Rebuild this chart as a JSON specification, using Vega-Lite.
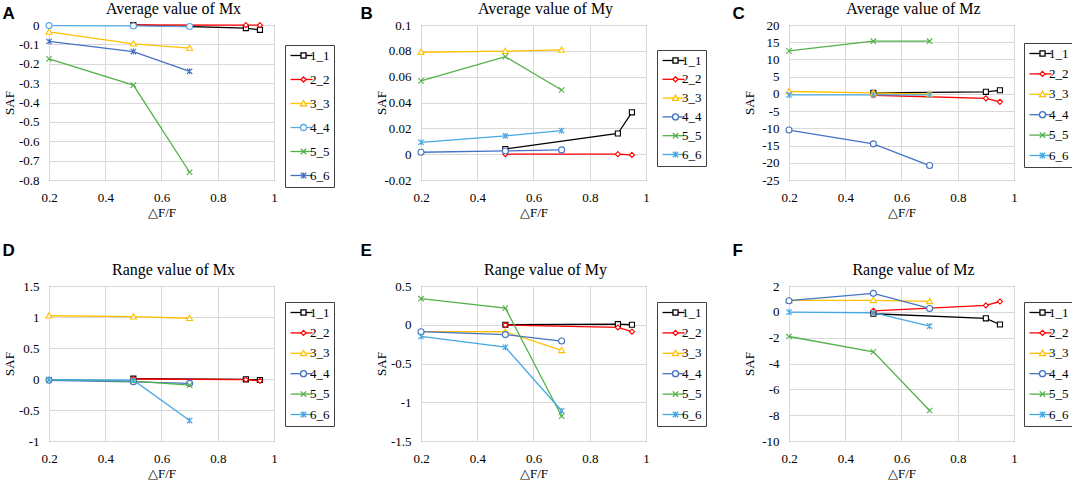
{
  "$schema": "https://vega.github.io/schema/vega-lite/v6.json",
  "padding": {"left": 2, "top": 0, "right": 0, "bottom": 0},
  "background": "white",
  "spacing": 21,
  "resolve": {"scale": {"color": "independent", "stroke": "independent", "shape": "independent"}, "legend": {"color": "independent", "stroke": "independent", "shape": "independent"}},
  "config": {
    "view": {"stroke": "#404040", "strokeWidth": 1},
    "concat": {"spacing": 25},
    "axis": {
      "domain": false,
      "ticks": false,
      "gridColor": "#d9d9d9",
      "gridWidth": 1,
      "labelFont": "Liberation Serif",
      "labelFontSize": 13,
      "labelColor": "black",
      "titleFont": "Liberation Serif",
      "titleFontSize": 13,
      "titleFontWeight": "normal",
      "titleColor": "black"
    },
    "axisX": {"labelPadding": 11, "titlePadding": 2, "labelFlush": false},
    "axisY": {"labelPadding": 10, "minExtent": 30, "maxExtent": 30, "titlePadding": 3},
    "title": {"font": "Liberation Serif", "fontSize": 16, "fontWeight": "normal", "color": "black", "offset": 2, "dx": 12},
    "legend": {
      "padding": 4,
      "labelFont": "Liberation Serif",
      "labelFontSize": 13,
      "labelColor": "black",
      "symbolStrokeWidth": 1.3
    }
  },
  "datasets": {
    "avgMx": [
      {"series": "1_1", "dff": 0.5, "saf": 0},
      {"series": "1_1", "dff": 0.9, "saf": -0.016},
      {"series": "1_1", "dff": 0.95, "saf": -0.025},
      {"series": "2_2", "dff": 0.5, "saf": 0},
      {"series": "2_2", "dff": 0.9, "saf": -0.001},
      {"series": "2_2", "dff": 0.95, "saf": -0.001},
      {"series": "3_3", "dff": 0.2, "saf": -0.036},
      {"series": "3_3", "dff": 0.5, "saf": -0.097},
      {"series": "3_3", "dff": 0.7, "saf": -0.119},
      {"series": "4_4", "dff": 0.2, "saf": -0.003},
      {"series": "4_4", "dff": 0.5, "saf": -0.005},
      {"series": "4_4", "dff": 0.7, "saf": -0.008},
      {"series": "5_5", "dff": 0.2, "saf": -0.175},
      {"series": "5_5", "dff": 0.5, "saf": -0.31},
      {"series": "5_5", "dff": 0.7, "saf": -0.76},
      {"series": "6_6", "dff": 0.2, "saf": -0.085},
      {"series": "6_6", "dff": 0.5, "saf": -0.137},
      {"series": "6_6", "dff": 0.7, "saf": -0.239}
    ],
    "avgMy": [
      {"series": "1_1", "dff": 0.5, "saf": 0.004},
      {"series": "1_1", "dff": 0.9, "saf": 0.016},
      {"series": "1_1", "dff": 0.95, "saf": 0.0324},
      {"series": "2_2", "dff": 0.5, "saf": 0},
      {"series": "2_2", "dff": 0.9, "saf": 0},
      {"series": "2_2", "dff": 0.95, "saf": -0.0006},
      {"series": "3_3", "dff": 0.2, "saf": 0.0789},
      {"series": "3_3", "dff": 0.5, "saf": 0.0797},
      {"series": "3_3", "dff": 0.7, "saf": 0.0807},
      {"series": "4_4", "dff": 0.2, "saf": 0.0015},
      {"series": "4_4", "dff": 0.5, "saf": 0.0025},
      {"series": "4_4", "dff": 0.7, "saf": 0.0033},
      {"series": "5_5", "dff": 0.2, "saf": 0.0567},
      {"series": "5_5", "dff": 0.5, "saf": 0.0755},
      {"series": "5_5", "dff": 0.7, "saf": 0.0497},
      {"series": "6_6", "dff": 0.2, "saf": 0.0092},
      {"series": "6_6", "dff": 0.5, "saf": 0.0141},
      {"series": "6_6", "dff": 0.7, "saf": 0.0182}
    ],
    "avgMz": [
      {"series": "1_1", "dff": 0.5, "saf": 0.3},
      {"series": "1_1", "dff": 0.9, "saf": 0.6},
      {"series": "1_1", "dff": 0.95, "saf": 1.05},
      {"series": "2_2", "dff": 0.5, "saf": -0.4},
      {"series": "2_2", "dff": 0.9, "saf": -1.3},
      {"series": "2_2", "dff": 0.95, "saf": -2.3},
      {"series": "3_3", "dff": 0.2, "saf": 0.7},
      {"series": "3_3", "dff": 0.5, "saf": 0.3},
      {"series": "3_3", "dff": 0.7, "saf": -0.1},
      {"series": "4_4", "dff": 0.2, "saf": -10.5},
      {"series": "4_4", "dff": 0.5, "saf": -14.5},
      {"series": "4_4", "dff": 0.7, "saf": -20.8},
      {"series": "5_5", "dff": 0.2, "saf": 12.5},
      {"series": "5_5", "dff": 0.5, "saf": 15.3},
      {"series": "5_5", "dff": 0.7, "saf": 15.3},
      {"series": "6_6", "dff": 0.2, "saf": -0.3},
      {"series": "6_6", "dff": 0.5, "saf": -0.3},
      {"series": "6_6", "dff": 0.7, "saf": -0.3}
    ],
    "rngMx": [
      {"series": "1_1", "dff": 0.5, "saf": 0.005},
      {"series": "1_1", "dff": 0.9, "saf": -0.005},
      {"series": "1_1", "dff": 0.95, "saf": -0.016},
      {"series": "2_2", "dff": 0.5, "saf": 0},
      {"series": "2_2", "dff": 0.9, "saf": -0.01},
      {"series": "2_2", "dff": 0.95, "saf": -0.03},
      {"series": "3_3", "dff": 0.2, "saf": 1.02},
      {"series": "3_3", "dff": 0.5, "saf": 1.005},
      {"series": "3_3", "dff": 0.7, "saf": 0.98},
      {"series": "4_4", "dff": 0.2, "saf": -0.02},
      {"series": "4_4", "dff": 0.5, "saf": -0.045},
      {"series": "4_4", "dff": 0.7, "saf": -0.07},
      {"series": "5_5", "dff": 0.2, "saf": -0.01},
      {"series": "5_5", "dff": 0.5, "saf": -0.035},
      {"series": "5_5", "dff": 0.7, "saf": -0.1},
      {"series": "6_6", "dff": 0.2, "saf": -0.01},
      {"series": "6_6", "dff": 0.5, "saf": -0.02},
      {"series": "6_6", "dff": 0.7, "saf": -0.67}
    ],
    "rngMy": [
      {"series": "1_1", "dff": 0.5, "saf": 0},
      {"series": "1_1", "dff": 0.9, "saf": 0.008},
      {"series": "1_1", "dff": 0.95, "saf": 0},
      {"series": "2_2", "dff": 0.5, "saf": -0.003},
      {"series": "2_2", "dff": 0.9, "saf": -0.035},
      {"series": "2_2", "dff": 0.95, "saf": -0.09},
      {"series": "3_3", "dff": 0.2, "saf": -0.088},
      {"series": "3_3", "dff": 0.5, "saf": -0.09},
      {"series": "3_3", "dff": 0.7, "saf": -0.33},
      {"series": "4_4", "dff": 0.2, "saf": -0.09},
      {"series": "4_4", "dff": 0.5, "saf": -0.127},
      {"series": "4_4", "dff": 0.7, "saf": -0.21},
      {"series": "5_5", "dff": 0.2, "saf": 0.336},
      {"series": "5_5", "dff": 0.5, "saf": 0.215},
      {"series": "5_5", "dff": 0.7, "saf": -1.18},
      {"series": "6_6", "dff": 0.2, "saf": -0.15},
      {"series": "6_6", "dff": 0.5, "saf": -0.29},
      {"series": "6_6", "dff": 0.7, "saf": -1.11}
    ],
    "rngMz": [
      {"series": "1_1", "dff": 0.5, "saf": -0.15},
      {"series": "1_1", "dff": 0.9, "saf": -0.5},
      {"series": "1_1", "dff": 0.95, "saf": -0.98},
      {"series": "2_2", "dff": 0.5, "saf": 0.08},
      {"series": "2_2", "dff": 0.9, "saf": 0.5},
      {"series": "2_2", "dff": 0.95, "saf": 0.8},
      {"series": "3_3", "dff": 0.2, "saf": 0.89},
      {"series": "3_3", "dff": 0.5, "saf": 0.89},
      {"series": "3_3", "dff": 0.7, "saf": 0.81},
      {"series": "4_4", "dff": 0.2, "saf": 0.86},
      {"series": "4_4", "dff": 0.5, "saf": 1.43},
      {"series": "4_4", "dff": 0.7, "saf": 0.26},
      {"series": "5_5", "dff": 0.2, "saf": -1.91},
      {"series": "5_5", "dff": 0.5, "saf": -3.1},
      {"series": "5_5", "dff": 0.7, "saf": -7.64},
      {"series": "6_6", "dff": 0.2, "saf": -0.02},
      {"series": "6_6", "dff": 0.5, "saf": -0.07},
      {"series": "6_6", "dff": 0.7, "saf": -1.11}
    ]
  },
  "vconcat": [
    {
      "resolve": {"scale": {"color": "independent", "stroke": "independent", "shape": "independent"}, "legend": {"color": "independent", "stroke": "independent", "shape": "independent"}},
      "hconcat": [
        {
          "title": {"text": "A", "anchor": "start", "font": "Liberation Sans", "fontSize": 17, "fontWeight": "bold", "color": "black", "offset": -22, "dx": 0},
          "resolve": {"scale": {"color": "independent", "stroke": "independent", "shape": "independent"}, "legend": {"color": "independent", "stroke": "independent", "shape": "independent"}},
          "vconcat": [
            {
              "title": "Average value of Mx",
              "width": 225,
              "height": 155,
              "data": {"name": "avgMx"},
              "encoding": {
                "x": {"field": "dff", "type": "quantitative", "scale": {"domain": [0.2, 1], "nice": false, "zero": false}, "axis": {"title": "△F/F", "values": [0.2, 0.4, 0.6, 0.8, 1], "format": "~r"}},
                "y": {"field": "saf", "type": "quantitative", "scale": {"domain": [-0.8, 0], "nice": false, "zero": false}, "axis": {"title": "SAF", "values": [-0.8, -0.7, -0.6, -0.5, -0.4, -0.3, -0.2, -0.1, 0], "format": "~r", "labelExpr": "replace(datum.label, '−', '-')"}}
              },
              "layer": [
                {
                  "mark": {"type": "line", "strokeWidth": 1.3},
                  "encoding": {"color": {"field": "series", "type": "nominal", "scale": {"domain": ["1_1", "2_2", "3_3", "4_4", "5_5", "6_6"], "range": ["#000000", "#FF0000", "#FFC000", "#5AAAE6", "#52B148", "#4472C4"]}, "legend": {"title": null, "orient": "none", "legendX": 236, "legendY": 20, "rowPadding": 10, "symbolType": "M-2.2,0H2.2", "symbolSize": 100, "symbolOffset": 6, "labelOffset": 2, "strokeColor": "#404040", "fillColor": "white"}}}
                },
                {
                  "mark": {"type": "point", "filled": false, "fill": "white", "opacity": 1, "size": 36, "strokeWidth": 1.1},
                  "encoding": {
                    "stroke": {"field": "series", "type": "nominal", "scale": {"range": ["#000000", "#FF0000", "#FFC000", "#5AAAE6", "#52B148", "#4472C4"]}, "legend": {"title": null, "orient": "none", "legendX": 236, "legendY": 20, "rowPadding": 10, "symbolSize": 36, "symbolOffset": 8, "labelOffset": 2, "labelExpr": "''", "strokeColor": "transparent", "fillColor": "transparent"}},
                    "shape": {"field": "series", "type": "nominal", "scale": {"range": ["M-0.85,-0.85H0.85V0.85H-0.85Z", "M0,-0.85L0.85,0L0,0.85L-0.85,0Z", "M0,-1L1,0.75H-1Z", "circle", "M-0.9,-0.9L0.9,0.9M-0.9,0.9L0.9,-0.9", "M-0.9,-0.9L0.9,0.9M-0.9,0.9L0.9,-0.9M0,-1V1"]}, "legend": {"title": null, "orient": "none", "legendX": 236, "legendY": 20, "rowPadding": 10, "symbolSize": 36, "symbolOffset": 8, "labelOffset": 2, "labelExpr": "''", "strokeColor": "transparent", "fillColor": "transparent"}}
                  }
                }
              ]
            }
          ]
        },
        {
          "title": {"text": "B", "anchor": "start", "font": "Liberation Sans", "fontSize": 17, "fontWeight": "bold", "color": "black", "offset": -22, "dx": -14},
          "resolve": {"scale": {"color": "independent", "stroke": "independent", "shape": "independent"}, "legend": {"color": "independent", "stroke": "independent", "shape": "independent"}},
          "vconcat": [
            {
              "title": "Average value of My",
              "width": 225,
              "height": 155,
              "data": {"name": "avgMy"},
              "encoding": {
                "x": {"field": "dff", "type": "quantitative", "scale": {"domain": [0.2, 1], "nice": false, "zero": false}, "axis": {"title": "△F/F", "values": [0.2, 0.4, 0.6, 0.8, 1], "format": "~r"}},
                "y": {"field": "saf", "type": "quantitative", "scale": {"domain": [-0.02, 0.1], "nice": false, "zero": false}, "axis": {"title": "SAF", "values": [-0.02, 0, 0.02, 0.04, 0.06, 0.08, 0.1], "format": "~r", "labelExpr": "replace(datum.label, '−', '-')"}}
              },
              "layer": [
                {
                  "mark": {"type": "line", "strokeWidth": 1.3},
                  "encoding": {"color": {"field": "series", "type": "nominal", "scale": {"domain": ["1_1", "2_2", "3_3", "4_4", "5_5", "6_6"], "range": ["#000000", "#FF0000", "#FFC000", "#4472C4", "#52B148", "#45A8E5"]}, "legend": {"title": null, "orient": "none", "legendX": 236, "legendY": 25, "rowPadding": 4.8, "symbolType": "M-2.2,0H2.2", "symbolSize": 100, "symbolOffset": 6, "labelOffset": 2, "strokeColor": "#404040", "fillColor": "white"}}}
                },
                {
                  "mark": {"type": "point", "filled": false, "fill": "white", "opacity": 1, "size": 36, "strokeWidth": 1.1},
                  "encoding": {
                    "stroke": {"field": "series", "type": "nominal", "scale": {"range": ["#000000", "#FF0000", "#FFC000", "#4472C4", "#52B148", "#45A8E5"]}, "legend": {"title": null, "orient": "none", "legendX": 236, "legendY": 25, "rowPadding": 4.8, "symbolSize": 36, "symbolOffset": 8, "labelOffset": 2, "labelExpr": "''", "strokeColor": "transparent", "fillColor": "transparent"}},
                    "shape": {"field": "series", "type": "nominal", "scale": {"range": ["M-0.85,-0.85H0.85V0.85H-0.85Z", "M0,-0.85L0.85,0L0,0.85L-0.85,0Z", "M0,-1L1,0.75H-1Z", "circle", "M-0.9,-0.9L0.9,0.9M-0.9,0.9L0.9,-0.9", "M-0.9,-0.9L0.9,0.9M-0.9,0.9L0.9,-0.9M0,-1V1"]}, "legend": {"title": null, "orient": "none", "legendX": 236, "legendY": 25, "rowPadding": 4.8, "symbolSize": 36, "symbolOffset": 8, "labelOffset": 2, "labelExpr": "''", "strokeColor": "transparent", "fillColor": "transparent"}}
                  }
                }
              ]
            }
          ]
        },
        {
          "title": {"text": "C", "anchor": "start", "font": "Liberation Sans", "fontSize": 17, "fontWeight": "bold", "color": "black", "offset": -22, "dx": -10},
          "resolve": {"scale": {"color": "independent", "stroke": "independent", "shape": "independent"}, "legend": {"color": "independent", "stroke": "independent", "shape": "independent"}},
          "vconcat": [
            {
              "title": "Average value of Mz",
              "width": 225,
              "height": 155,
              "data": {"name": "avgMz"},
              "encoding": {
                "x": {"field": "dff", "type": "quantitative", "scale": {"domain": [0.2, 1], "nice": false, "zero": false}, "axis": {"title": "△F/F", "values": [0.2, 0.4, 0.6, 0.8, 1], "format": "~r"}},
                "y": {"field": "saf", "type": "quantitative", "scale": {"domain": [-25, 20], "nice": false, "zero": false}, "axis": {"title": "SAF", "values": [-25, -20, -15, -10, -5, 0, 5, 10, 15, 20], "format": "~r", "labelExpr": "replace(datum.label, '−', '-')"}}
              },
              "layer": [
                {
                  "mark": {"type": "line", "strokeWidth": 1.3},
                  "encoding": {"color": {"field": "series", "type": "nominal", "scale": {"domain": ["1_1", "2_2", "3_3", "4_4", "5_5", "6_6"], "range": ["#000000", "#FF0000", "#FFC000", "#4472C4", "#52B148", "#45A8E5"]}, "legend": {"title": null, "orient": "none", "legendX": 235, "legendY": 18, "rowPadding": 6.4, "symbolType": "M-2.2,0H2.2", "symbolSize": 100, "symbolOffset": 6, "labelOffset": 2, "strokeColor": "#404040", "fillColor": "white"}}}
                },
                {
                  "mark": {"type": "point", "filled": false, "fill": "white", "opacity": 1, "size": 36, "strokeWidth": 1.1},
                  "encoding": {
                    "stroke": {"field": "series", "type": "nominal", "scale": {"range": ["#000000", "#FF0000", "#FFC000", "#4472C4", "#52B148", "#45A8E5"]}, "legend": {"title": null, "orient": "none", "legendX": 235, "legendY": 18, "rowPadding": 6.4, "symbolSize": 36, "symbolOffset": 8, "labelOffset": 2, "labelExpr": "''", "strokeColor": "transparent", "fillColor": "transparent"}},
                    "shape": {"field": "series", "type": "nominal", "scale": {"range": ["M-0.85,-0.85H0.85V0.85H-0.85Z", "M0,-0.85L0.85,0L0,0.85L-0.85,0Z", "M0,-1L1,0.75H-1Z", "circle", "M-0.9,-0.9L0.9,0.9M-0.9,0.9L0.9,-0.9", "M-0.9,-0.9L0.9,0.9M-0.9,0.9L0.9,-0.9M0,-1V1"]}, "legend": {"title": null, "orient": "none", "legendX": 235, "legendY": 18, "rowPadding": 6.4, "symbolSize": 36, "symbolOffset": 8, "labelOffset": 2, "labelExpr": "''", "strokeColor": "transparent", "fillColor": "transparent"}}
                  }
                }
              ]
            }
          ]
        }
      ]
    },
    {
      "resolve": {"scale": {"color": "independent", "stroke": "independent", "shape": "independent"}, "legend": {"color": "independent", "stroke": "independent", "shape": "independent"}},
      "hconcat": [
        {
          "title": {"text": "D", "anchor": "start", "font": "Liberation Sans", "fontSize": 17, "fontWeight": "bold", "color": "black", "offset": 2, "dx": 0},
          "resolve": {"scale": {"color": "independent", "stroke": "independent", "shape": "independent"}, "legend": {"color": "independent", "stroke": "independent", "shape": "independent"}},
          "vconcat": [
            {
              "title": "Range value of Mx",
              "width": 225,
              "height": 155,
              "data": {"name": "rngMx"},
              "encoding": {
                "x": {"field": "dff", "type": "quantitative", "scale": {"domain": [0.2, 1], "nice": false, "zero": false}, "axis": {"title": "△F/F", "values": [0.2, 0.4, 0.6, 0.8, 1], "format": "~r"}},
                "y": {"field": "saf", "type": "quantitative", "scale": {"domain": [-1, 1.5], "nice": false, "zero": false}, "axis": {"title": "SAF", "values": [-1, -0.5, 0, 0.5, 1, 1.5], "format": "~r", "labelExpr": "replace(datum.label, '−', '-')"}}
              },
              "layer": [
                {
                  "mark": {"type": "line", "strokeWidth": 1.3},
                  "encoding": {"color": {"field": "series", "type": "nominal", "scale": {"domain": ["1_1", "2_2", "3_3", "4_4", "5_5", "6_6"], "range": ["#000000", "#FF0000", "#FFC000", "#4472C4", "#52B148", "#45A8E5"]}, "legend": {"title": null, "orient": "none", "legendX": 236, "legendY": 16, "rowPadding": 6.4, "symbolType": "M-2.2,0H2.2", "symbolSize": 100, "symbolOffset": 6, "labelOffset": 2, "strokeColor": "#404040", "fillColor": "white"}}}
                },
                {
                  "mark": {"type": "point", "filled": false, "fill": "white", "opacity": 1, "size": 36, "strokeWidth": 1.1},
                  "encoding": {
                    "stroke": {"field": "series", "type": "nominal", "scale": {"range": ["#000000", "#FF0000", "#FFC000", "#4472C4", "#52B148", "#45A8E5"]}, "legend": {"title": null, "orient": "none", "legendX": 236, "legendY": 16, "rowPadding": 6.4, "symbolSize": 36, "symbolOffset": 8, "labelOffset": 2, "labelExpr": "''", "strokeColor": "transparent", "fillColor": "transparent"}},
                    "shape": {"field": "series", "type": "nominal", "scale": {"range": ["M-0.85,-0.85H0.85V0.85H-0.85Z", "M0,-0.85L0.85,0L0,0.85L-0.85,0Z", "M0,-1L1,0.75H-1Z", "circle", "M-0.9,-0.9L0.9,0.9M-0.9,0.9L0.9,-0.9", "M-0.9,-0.9L0.9,0.9M-0.9,0.9L0.9,-0.9M0,-1V1"]}, "legend": {"title": null, "orient": "none", "legendX": 236, "legendY": 16, "rowPadding": 6.4, "symbolSize": 36, "symbolOffset": 8, "labelOffset": 2, "labelExpr": "''", "strokeColor": "transparent", "fillColor": "transparent"}}
                  }
                }
              ]
            }
          ]
        },
        {
          "title": {"text": "E", "anchor": "start", "font": "Liberation Sans", "fontSize": 17, "fontWeight": "bold", "color": "black", "offset": 2, "dx": -14},
          "resolve": {"scale": {"color": "independent", "stroke": "independent", "shape": "independent"}, "legend": {"color": "independent", "stroke": "independent", "shape": "independent"}},
          "vconcat": [
            {
              "title": "Range value of My",
              "width": 225,
              "height": 155,
              "data": {"name": "rngMy"},
              "encoding": {
                "x": {"field": "dff", "type": "quantitative", "scale": {"domain": [0.2, 1], "nice": false, "zero": false}, "axis": {"title": "△F/F", "values": [0.2, 0.4, 0.6, 0.8, 1], "format": "~r"}},
                "y": {"field": "saf", "type": "quantitative", "scale": {"domain": [-1.5, 0.5], "nice": false, "zero": false}, "axis": {"title": "SAF", "values": [-1.5, -1, -0.5, 0, 0.5], "format": "~r", "labelExpr": "replace(datum.label, '−', '-')"}}
              },
              "layer": [
                {
                  "mark": {"type": "line", "strokeWidth": 1.3},
                  "encoding": {"color": {"field": "series", "type": "nominal", "scale": {"domain": ["1_1", "2_2", "3_3", "4_4", "5_5", "6_6"], "range": ["#000000", "#FF0000", "#FFC000", "#4472C4", "#52B148", "#45A8E5"]}, "legend": {"title": null, "orient": "none", "legendX": 236, "legendY": 16, "rowPadding": 6.4, "symbolType": "M-2.2,0H2.2", "symbolSize": 100, "symbolOffset": 6, "labelOffset": 2, "strokeColor": "#404040", "fillColor": "white"}}}
                },
                {
                  "mark": {"type": "point", "filled": false, "fill": "white", "opacity": 1, "size": 36, "strokeWidth": 1.1},
                  "encoding": {
                    "stroke": {"field": "series", "type": "nominal", "scale": {"range": ["#000000", "#FF0000", "#FFC000", "#4472C4", "#52B148", "#45A8E5"]}, "legend": {"title": null, "orient": "none", "legendX": 236, "legendY": 16, "rowPadding": 6.4, "symbolSize": 36, "symbolOffset": 8, "labelOffset": 2, "labelExpr": "''", "strokeColor": "transparent", "fillColor": "transparent"}},
                    "shape": {"field": "series", "type": "nominal", "scale": {"range": ["M-0.85,-0.85H0.85V0.85H-0.85Z", "M0,-0.85L0.85,0L0,0.85L-0.85,0Z", "M0,-1L1,0.75H-1Z", "circle", "M-0.9,-0.9L0.9,0.9M-0.9,0.9L0.9,-0.9", "M-0.9,-0.9L0.9,0.9M-0.9,0.9L0.9,-0.9M0,-1V1"]}, "legend": {"title": null, "orient": "none", "legendX": 236, "legendY": 16, "rowPadding": 6.4, "symbolSize": 36, "symbolOffset": 8, "labelOffset": 2, "labelExpr": "''", "strokeColor": "transparent", "fillColor": "transparent"}}
                  }
                }
              ]
            }
          ]
        },
        {
          "title": {"text": "F", "anchor": "start", "font": "Liberation Sans", "fontSize": 17, "fontWeight": "bold", "color": "black", "offset": 2, "dx": -10},
          "resolve": {"scale": {"color": "independent", "stroke": "independent", "shape": "independent"}, "legend": {"color": "independent", "stroke": "independent", "shape": "independent"}},
          "vconcat": [
            {
              "title": "Range value of Mz",
              "width": 225,
              "height": 155,
              "data": {"name": "rngMz"},
              "encoding": {
                "x": {"field": "dff", "type": "quantitative", "scale": {"domain": [0.2, 1], "nice": false, "zero": false}, "axis": {"title": "△F/F", "values": [0.2, 0.4, 0.6, 0.8, 1], "format": "~r"}},
                "y": {"field": "saf", "type": "quantitative", "scale": {"domain": [-10, 2], "nice": false, "zero": false}, "axis": {"title": "SAF", "values": [-10, -8, -6, -4, -2, 0, 2], "format": "~r", "labelExpr": "replace(datum.label, '−', '-')"}}
              },
              "layer": [
                {
                  "mark": {"type": "line", "strokeWidth": 1.3},
                  "encoding": {"color": {"field": "series", "type": "nominal", "scale": {"domain": ["1_1", "2_2", "3_3", "4_4", "5_5", "6_6"], "range": ["#000000", "#FF0000", "#FFC000", "#4472C4", "#52B148", "#45A8E5"]}, "legend": {"title": null, "orient": "none", "legendX": 235, "legendY": 16, "rowPadding": 6.4, "symbolType": "M-2.2,0H2.2", "symbolSize": 100, "symbolOffset": 6, "labelOffset": 2, "strokeColor": "#404040", "fillColor": "white"}}}
                },
                {
                  "mark": {"type": "point", "filled": false, "fill": "white", "opacity": 1, "size": 36, "strokeWidth": 1.1},
                  "encoding": {
                    "stroke": {"field": "series", "type": "nominal", "scale": {"range": ["#000000", "#FF0000", "#FFC000", "#4472C4", "#52B148", "#45A8E5"]}, "legend": {"title": null, "orient": "none", "legendX": 235, "legendY": 16, "rowPadding": 6.4, "symbolSize": 36, "symbolOffset": 8, "labelOffset": 2, "labelExpr": "''", "strokeColor": "transparent", "fillColor": "transparent"}},
                    "shape": {"field": "series", "type": "nominal", "scale": {"range": ["M-0.85,-0.85H0.85V0.85H-0.85Z", "M0,-0.85L0.85,0L0,0.85L-0.85,0Z", "M0,-1L1,0.75H-1Z", "circle", "M-0.9,-0.9L0.9,0.9M-0.9,0.9L0.9,-0.9", "M-0.9,-0.9L0.9,0.9M-0.9,0.9L0.9,-0.9M0,-1V1"]}, "legend": {"title": null, "orient": "none", "legendX": 235, "legendY": 16, "rowPadding": 6.4, "symbolSize": 36, "symbolOffset": 8, "labelOffset": 2, "labelExpr": "''", "strokeColor": "transparent", "fillColor": "transparent"}}
                  }
                }
              ]
            }
          ]
        }
      ]
    }
  ]
}
